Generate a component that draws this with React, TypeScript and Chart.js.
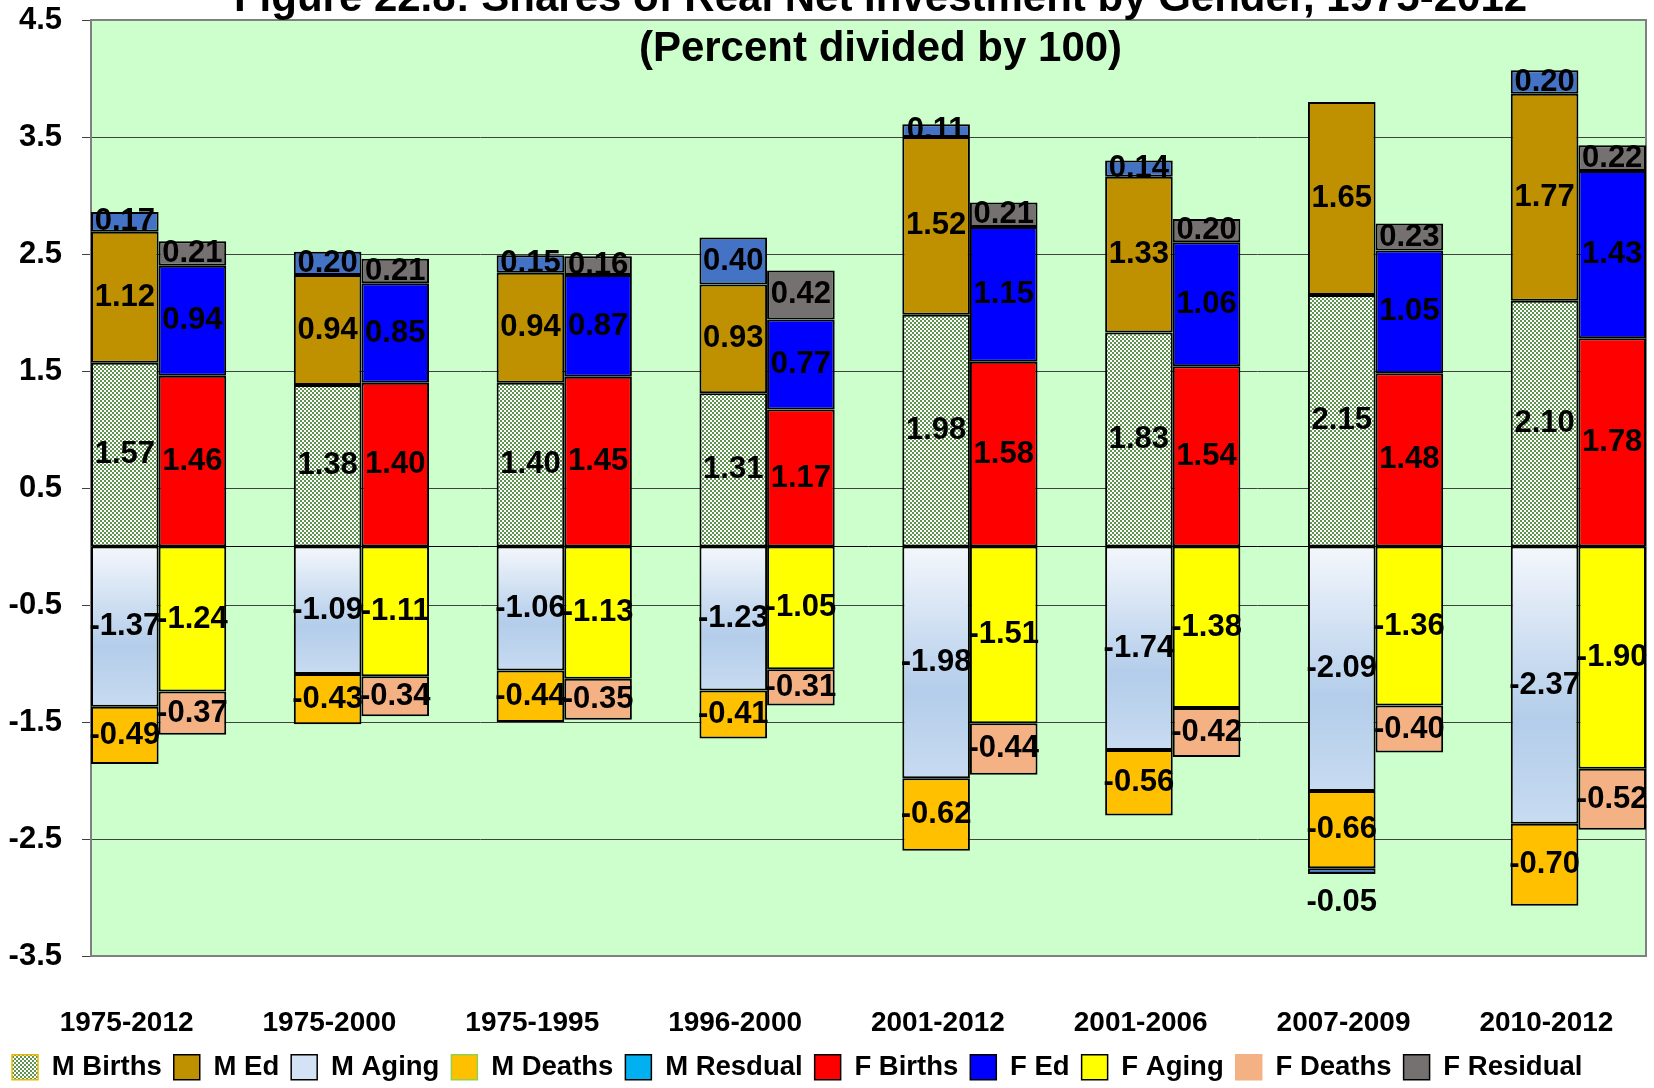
import React, { useEffect, useRef } from 'react';
import { Chart, registerables } from 'chart.js';

Chart.register(...registerables);

// ---------- data ----------
const categories = ['1975-2012', '1975-2000', '1975-1995', '1996-2000', '2001-2012', '2001-2006', '2007-2009', '2010-2012'];
const mBirths = [1.57, 1.38, 1.40, 1.31, 1.98, 1.83, 2.15, 2.10];
const mEd = [1.12, 0.94, 0.94, 0.93, 1.52, 1.33, 1.65, 1.77];
const mAging = [-1.37, -1.09, -1.06, -1.23, -1.98, -1.74, -2.09, -2.37];
const mDeaths = [-0.49, -0.43, -0.44, -0.41, -0.62, -0.56, -0.66, -0.70];
const mResidual = [0.17, 0.20, 0.15, 0.40, 0.11, 0.14, -0.05, 0.20];
const fBirths = [1.46, 1.40, 1.45, 1.17, 1.58, 1.54, 1.48, 1.78];
const fEd = [0.94, 0.85, 0.87, 0.77, 1.15, 1.06, 1.05, 1.43];
const fAging = [-1.24, -1.11, -1.13, -1.05, -1.51, -1.38, -1.36, -1.90];
const fDeaths = [-0.37, -0.34, -0.35, -0.31, -0.44, -0.42, -0.40, -0.52];
const fResidual = [0.21, 0.21, 0.16, 0.42, 0.21, 0.20, 0.23, 0.22];
const yMin = -3.5;
const yMax = 4.5;
const yStep = 1;
const titleLines = ['Figure 22.8: Shares of Real Net Investment by Gender, 1975-2012', '(Percent divided by 100)'];

const FONT = '"Liberation Sans", Arial, Helvetica, sans-serif';

function makeChecker(ctx: CanvasRenderingContext2D) {
  const c = document.createElement('canvas');
  c.width = 4;
  c.height = 4;
  const g = c.getContext('2d')!;
  g.fillStyle = '#ffffff';
  g.fillRect(0, 0, 4, 4);
  g.fillStyle = '#5f9350';
  g.fillRect(0, 0, 2, 2);
  g.fillRect(2, 2, 2, 2);
  return ctx.createPattern(c, 'repeat')!;
}

const plotFrame = {
  id: 'plotFrame',
  beforeDraw(chart: any) {
    const { ctx, chartArea: a } = chart;
    ctx.save();
    ctx.fillStyle = '#CCFFCC';
    ctx.fillRect(a.left, a.top, a.right - a.left, a.bottom - a.top);
    ctx.restore();
  },
  beforeDatasetsDraw(chart: any) {
    const { ctx, chartArea: a, scales } = chart;
    ctx.save();
    const y0 = scales.y.getPixelForValue(0);
    ctx.strokeStyle = '#000';
    ctx.lineWidth = 1;
    ctx.beginPath();
    ctx.moveTo(a.left, y0);
    ctx.lineTo(a.right, y0);
    ctx.stroke();
    ctx.strokeStyle = '#808080';
    ctx.lineWidth = 2;
    ctx.strokeRect(a.left, a.top, a.right - a.left, a.bottom - a.top);
    ctx.restore();
  },
};

const valueLabels = {
  id: 'valueLabels',
  afterDatasetsDraw(chart: any) {
    const { ctx } = chart;
    ctx.save();
    ctx.font = `bold 31px ${FONT}`;
    ctx.fillStyle = '#000';
    ctx.textAlign = 'center';
    ctx.textBaseline = 'middle';
    chart.data.datasets.forEach((ds: any, di: number) => {
      const meta = chart.getDatasetMeta(di);
      meta.data.forEach((el: any, i: number) => {
        const v = ds.data[i].y;
        const p = el.getProps(['x', 'y', 'base'], true);
        let ty = (p.y + p.base) / 2;
        if (ds.labelBelow && v < 0) ty = p.y + 28;
        ctx.fillText(v.toFixed(2), p.x, ty);
      });
    });
    ctx.restore();
  },
};

const titlePlugin = {
  id: 'titleText',
  afterDraw(chart: any) {
    const { ctx, chartArea: a } = chart;
    const cx = (a.left + a.right) / 2 + 12;
    ctx.save();
    ctx.font = `bold 42px ${FONT}`;
    ctx.fillStyle = '#000';
    ctx.textAlign = 'center';
    ctx.textBaseline = 'alphabetic';
    ctx.fillText(titleLines[0], cx, a.top - 9);
    ctx.fillText(titleLines[1], cx, a.top + 41);
    ctx.restore();
  },
};

export default function App() {
  const ref = useRef<HTMLCanvasElement>(null);

  useEffect(() => {
    document.body.style.margin = '0';
    document.body.style.overflow = 'hidden';
    const canvas = ref.current!;
    const ctx = canvas.getContext('2d')!;
    const checker = makeChecker(ctx);

    const agingFill = (c: any) => {
      const chart = c.chart;
      const ys = chart.scales && chart.scales.y;
      if (!chart.chartArea || !ys || c.type !== 'data') return '#C6D9F1';
      const v = c.raw && typeof c.raw.y === 'number' ? c.raw.y : 0;
      const top = ys.getPixelForValue(0);
      const bottom = ys.getPixelForValue(v);
      if (!isFinite(top) || !isFinite(bottom) || top === bottom) return '#C6D9F1';
      const g = chart.ctx.createLinearGradient(0, top, 0, bottom);
      g.addColorStop(0, '#F4F7FC');
      g.addColorStop(0.62, '#B3CDEA');
      g.addColorStop(1, '#C8DBF1');
      return g;
    };

    const mk = (label: string, values: number[], stack: string, bg: any, legendFill: any, legendStroke: string, extra: any = {}) => ({
      label,
      stack,
      data: values.map((v, i) => ({ x: i, y: v })),
      backgroundColor: bg,
      borderColor: '#000',
      borderWidth: 2,
      borderSkipped: false,
      legendFill,
      legendStroke,
      ...extra,
    });

    const datasets: any[] = [
      mk('M Births', mBirths, 'M', checker, checker, '#E8B800'),
      mk('M Ed', mEd, 'M', '#BF9000', '#BF9000', '#000'),
      mk('M Aging', mAging, 'M', agingFill, '#D3E2F4', '#000'),
      mk('M Deaths', mDeaths, 'M', '#FFC000', '#FFC000', '#92D050'),
      mk('M Resdual', mResidual, 'M', '#4472C4', '#00B0F0', '#000', { labelBelow: true }),
      mk('F Births', fBirths, 'F', '#FF0000', '#FF0000', '#000'),
      mk('F Ed', fEd, 'F', '#0000FF', '#0000FF', '#000'),
      mk('F Aging', fAging, 'F', '#FFFF00', '#FFFF00', '#000'),
      mk('F Deaths', fDeaths, 'F', '#F4B183', '#F4B183', '#F4B183'),
      mk('F Residual', fResidual, 'F', '#767171', '#767171', '#000', { labelBelow: true }),
    ];

    const chart = new Chart(ctx, {
      type: 'bar',
      data: { datasets },
      options: {
        responsive: false,
        animation: false,
        devicePixelRatio: 1,
        layout: { padding: { top: 20, right: 8, left: 0, bottom: -3 } },
        datasets: { bar: { categoryPercentage: 2 / 3, barPercentage: 1 } },
        plugins: {
          tooltip: { enabled: false },
          title: { display: false },
          legend: {
            position: 'bottom',
            align: 'start',
            onClick: () => {},
            labels: {
              boxWidth: 26,
              boxHeight: 25,
              padding: 12,
              color: '#000',
              font: { family: FONT, size: 27.5, weight: 'bold' },
              generateLabels: (ch: any) =>
                ch.data.datasets.map((ds: any, i: number) => ({
                  text: ds.label,
                  fillStyle: ds.legendFill,
                  strokeStyle: ds.legendStroke,
                  lineWidth: 1.5,
                  hidden: false,
                  datasetIndex: i,
                  fontColor: '#000',
                })),
            },
          },
        },
        scales: {
          x: {
            type: 'linear',
            min: -1 / 3,
            max: categories.length - 1 + 1 / 3,
            offset: false,
            grid: { display: false, drawTicks: false },
            border: { display: false },
            afterBuildTicks: (scale: any) => {
              scale.ticks = categories.map((_, i) => ({ value: i }));
            },
            afterFit: (scale: any) => {
              scale.height = 85.5;
              scale.paddingLeft = 0;
              scale.paddingRight = 0;
            },
            ticks: {
              autoSkip: false,
              maxRotation: 0,
              minRotation: 0,
              padding: 50,
              labelOffset: -32,
              color: '#000',
              font: { family: FONT, size: 28, weight: 'bold' },
              callback: (_v: any, i: number) => categories[i],
            },
          },
          y: {
            stacked: true,
            min: yMin,
            max: yMax,
            grid: { color: '#404040', lineWidth: 1, tickLength: 9, drawTicks: true },
            border: { color: '#808080', width: 2 },
            afterFit: (scale: any) => {
              scale.width = 91;
              scale.paddingTop = 0;
              scale.paddingBottom = 0;
            },
            ticks: {
              stepSize: yStep,
              padding: 20,
              color: '#000',
              font: { family: FONT, size: 31, weight: 'bold' },
              callback: (v: any) => Number(v).toFixed(1),
            },
          },
        },
      } as any,
      plugins: [plotFrame, valueLabels, titlePlugin],
    });

    return () => chart.destroy();
  }, []);

  return (
    <div style={{ width: 1654, height: 1088 }}>
      <canvas ref={ref} width={1654} height={1088} style={{ display: 'block', width: 1654, height: 1088 }} />
    </div>
  );
}
